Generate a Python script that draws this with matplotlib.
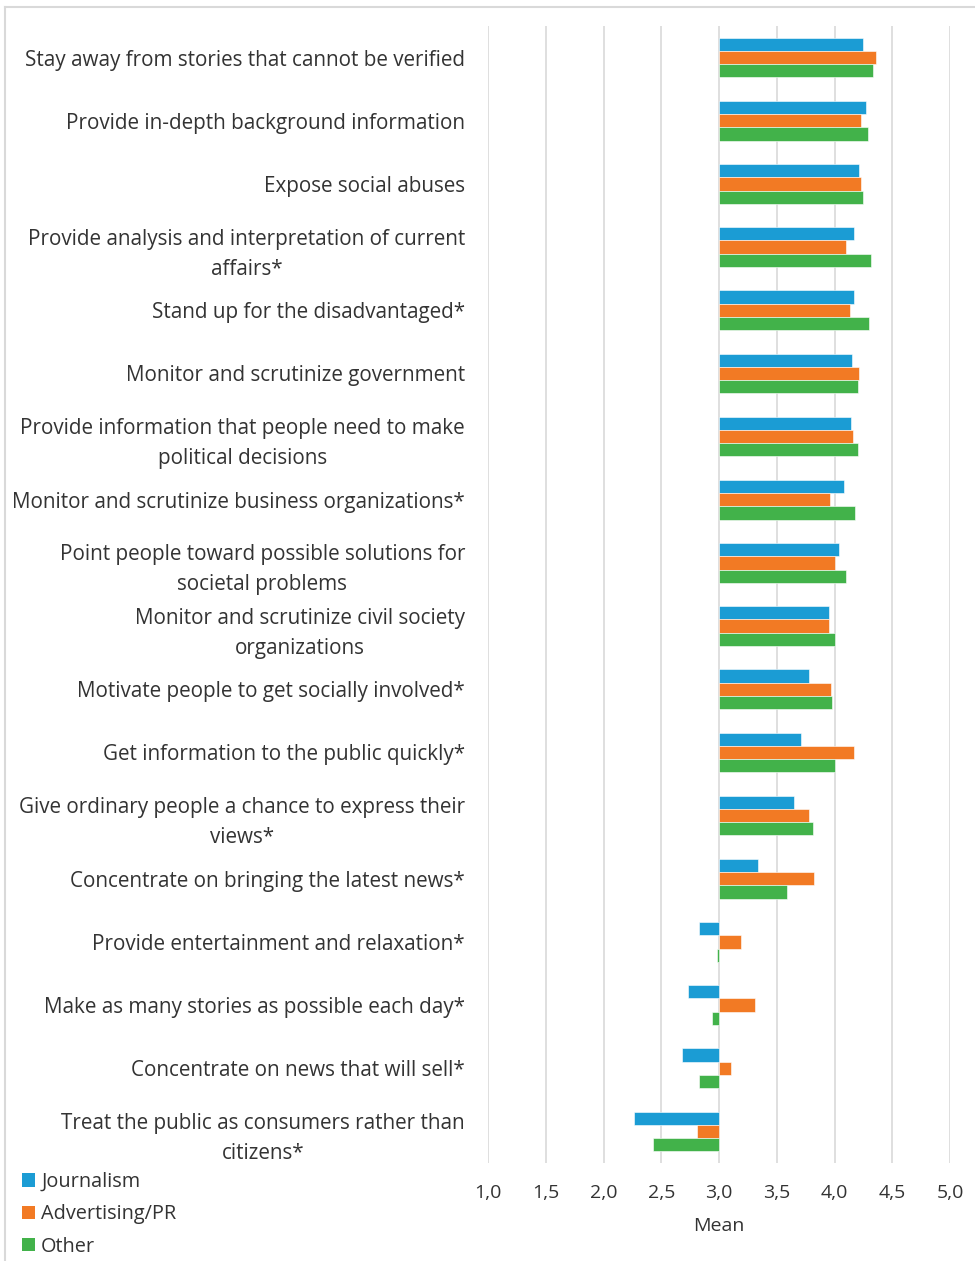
import numpy as np
import matplotlib
matplotlib.use('Agg')
import matplotlib.pyplot as plt
from matplotlib.lines import Line2D
from matplotlib.patches import Patch

plt.rcParams['font.family'] = ['Open Sans', 'DejaVu Sans']

# Role statements, top to bottom
roles = [
    'Stay away from stories that cannot be verified',
    'Provide in-depth background information',
    'Expose social abuses',
    'Provide analysis and interpretation of current\naffairs*',
    'Stand up for the disadvantaged*',
    'Monitor and scrutinize government',
    'Provide information that people need to make\npolitical decisions',
    'Monitor and scrutinize business organizations*',
    'Point people toward possible solutions for\nsocietal problems',
    'Monitor and scrutinize civil society\norganizations',
    'Motivate people to get socially involved*',
    'Get information to the public quickly*',
    'Give ordinary people a chance to express their\nviews*',
    'Concentrate on bringing the latest news*',
    'Provide entertainment and relaxation*',
    'Make as many stories as possible each day*',
    'Concentrate on news that will sell*',
    'Treat the public as consumers rather than\ncitizens*',
]

# Mean scores per group
journalism = [4.25, 4.27, 4.21, 4.17, 4.17, 4.15, 4.14, 4.08, 4.04, 3.95,
              3.78, 3.71, 3.65, 3.34, 2.83, 2.73, 2.68, 2.26]
advertising_pr = [4.36, 4.23, 4.23, 4.10, 4.13, 4.21, 4.16, 3.96, 4.00, 3.95,
                  3.97, 4.17, 3.78, 3.82, 3.19, 3.31, 3.10, 2.81]
other = [4.33, 4.29, 4.25, 4.32, 4.30, 4.20, 4.20, 4.18, 4.10, 4.00,
         3.98, 4.00, 3.81, 3.59, 2.98, 2.94, 2.83, 2.43]

series_names = ['Journalism', 'Advertising/PR', 'Other']
series_colors = ['#1B9CD4', '#F27A24', '#42B24A']

xticks = [1.0, 1.5, 2.0, 2.5, 3.0, 3.5, 4.0, 4.5, 5.0]
xtick_labels = ['1,0', '1,5', '2,0', '2,5', '3,0', '3,5', '4,0', '4,5', '5,0']
midpoint = 3.0

W, H = 975, 1261
fig = plt.figure(figsize=(W / 100, H / 100), dpi=100)
ax = fig.add_axes([488 / W, 1 - 1163 / H, (950 - 488) / W, (1163 - 26) / H])

text_color = '#333333'
grid_color = '#d9d9d9'

y = np.arange(len(roles))
bar_h = 0.21
for k, (vals, name, col) in enumerate(zip([journalism, advertising_pr, other],
                                          series_names, series_colors)):
    vals = np.array(vals)
    ax.barh(y + (k - 1) * bar_h, vals - midpoint, left=midpoint, height=bar_h,
            color=col, edgecolor='white', linewidth=0.4, label=name, zorder=3)

ax.set_xlim(1.0, 5.0)
ax.set_ylim(len(roles) - 0.5, -0.5)
ax.set_xticks(xticks)
ax.set_xticklabels(xtick_labels)
ax.set_yticks(y)
ax.set_yticklabels(roles, multialignment='center', linespacing=1.56)

ax.grid(axis='x', color=grid_color, linewidth=1.2, zorder=0)
for s in ax.spines.values():
    s.set_visible(False)
ax.tick_params(axis='y', length=0, pad=16.5, labelsize=14.9, labelcolor=text_color)
ax.tick_params(axis='x', length=0, pad=15, labelsize=14, labelcolor=text_color)
ax.set_xlabel('Mean', fontsize=14, color=text_color, labelpad=11)

# legend in the lower-left corner
handles = [Patch(facecolor=c, edgecolor='none') for c in series_colors]
fig.legend(handles, series_names, loc='upper left', bbox_to_anchor=(22 / W, 1 - 1172 / H),
           frameon=False, fontsize=14.3, labelcolor=text_color,
           handlelength=0.66, handleheight=0.66, handletextpad=0.3,
           labelspacing=0.62, borderaxespad=0, borderpad=0)

# page frame lines
fig.add_artist(Line2D([5 / W, 1], [1 - 7 / H, 1 - 7 / H], color=grid_color, lw=1.5))
fig.add_artist(Line2D([5 / W, 5 / W], [0, 1 - 7 / H], color=grid_color, lw=1.5))

fig.savefig('out.png', dpi=100, facecolor='white')
